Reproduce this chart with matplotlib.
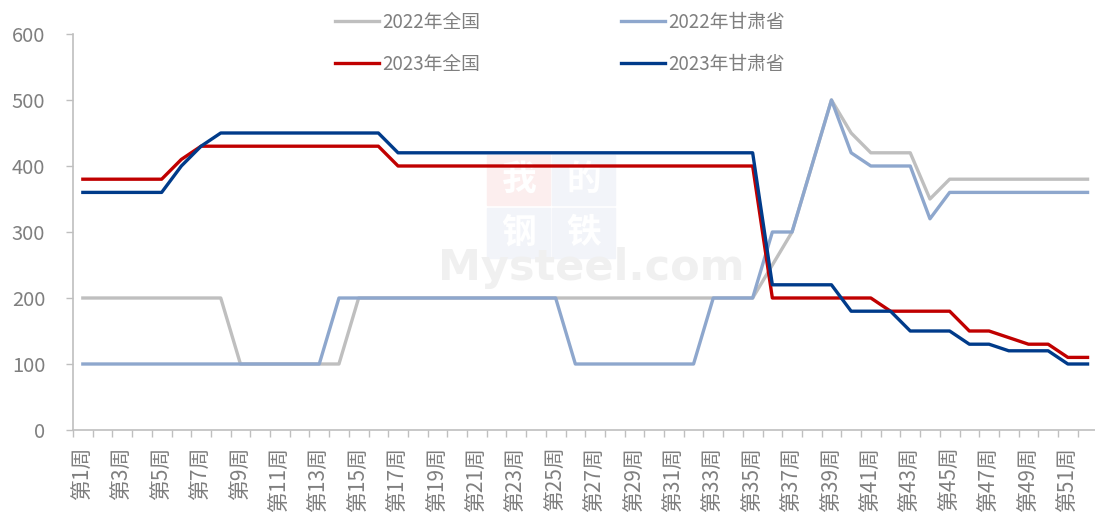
import numpy as np
import matplotlib.pyplot as plt
from matplotlib.patches import Rectangle

plt.rcParams['font.family'] = ['Noto Sans CJK SC', 'DejaVu Sans']

# данные: недели 1..52
weeks = np.arange(1, 53)
week_labels = ['第%d周' % w for w in weeks]

nat_2022 = [200, 200, 200, 200, 200, 200, 200, 200, 100, 100,
            100, 100, 100, 100, 200, 200, 200, 200, 200, 200,
            200, 200, 200, 200, 200, 200, 200, 200, 200, 200,
            200, 200, 200, 200, 200, 250, 300, 400, 500, 450,
            420, 420, 420, 350, 380, 380, 380, 380, 380, 380,
            380, 380]
gs_2022 = [100, 100, 100, 100, 100, 100, 100, 100, 100, 100,
           100, 100, 100, 200, 200, 200, 200, 200, 200, 200,
           200, 200, 200, 200, 200, 100, 100, 100, 100, 100,
           100, 100, 200, 200, 200, 300, 300, 400, 500, 420,
           400, 400, 400, 320, 360, 360, 360, 360, 360, 360,
           360, 360]
nat_2023 = [380, 380, 380, 380, 380, 410, 430, 430, 430, 430,
            430, 430, 430, 430, 430, 430, 400, 400, 400, 400,
            400, 400, 400, 400, 400, 400, 400, 400, 400, 400,
            400, 400, 400, 400, 400, 200, 200, 200, 200, 200,
            200, 180, 180, 180, 180, 150, 150, 140, 130, 130,
            110, 110]
gs_2023 = [360, 360, 360, 360, 360, 400, 430, 450, 450, 450,
           450, 450, 450, 450, 450, 450, 420, 420, 420, 420,
           420, 420, 420, 420, 420, 420, 420, 420, 420, 420,
           420, 420, 420, 420, 420, 220, 220, 220, 220, 180,
           180, 180, 150, 150, 150, 130, 130, 120, 120, 120,
           100, 100]

tcol = '#7F7F7F'
acol = '#BFBFBF'
W, H = 1095, 513

fig = plt.figure(figsize=(10.95, 5.13), dpi=100)
ax = fig.add_axes([73/W, 83/H, 1024.4/W, 396/H])

# водяной знак (логотип) под линиями
tf = fig.transFigure
boxes = [(487, 155, '#FCEEEE', '我'), (552, 155, '#F2F4F9', '的'),
         (487, 208, '#F2F4F9', '钢'), (552, 208, '#F2F4F9', '铁')]
for bx, by, bc, ch in boxes:
    ax.add_patch(Rectangle((bx/W, 1 - (by + 50)/H), 63/W, 50/H,
                           transform=tf, color=bc, zorder=0.2, clip_on=False))
    ax.text((bx + 32)/W, 1 - (by + 24)/H, ch, transform=tf, ha='center',
            va='center', fontsize=25, color='white', fontweight='bold',
            zorder=0.3)
ax.text(591/W, 1 - 268/H, 'Mysteel.com', transform=tf, ha='center',
        va='center', fontsize=31, color='#F0F0F0', fontweight='bold',
        family='DejaVu Sans', zorder=0.4)

lw = 2.4
ax.plot(weeks, nat_2022, color='#BFBFBF', linewidth=lw, label='2022年全国')
ax.plot(weeks, gs_2022, color='#8EA7CD', linewidth=lw, label='2022年甘肃省')
ax.plot(weeks, nat_2023, color='#C00000', linewidth=lw, label='2023年全国')
ax.plot(weeks, gs_2023, color='#003B8A', linewidth=lw, label='2023年甘肃省')

ax.set_xlim(0.5, 52.5)
ax.set_ylim(0, 600)
ax.set_yticks(np.arange(0, 601, 100))
ax.tick_params(axis='y', colors=acol, labelcolor=tcol, labelsize=14.5,
               length=5, width=1, pad=15)

ax.set_xticks(weeks[::2])
ax.set_xticklabels(week_labels[::2], rotation=90, fontsize=15, color=tcol)
ax.set_xticks(np.arange(0.5, 53, 1), minor=True)
ax.tick_params(axis='x', which='major', length=0, pad=12)
ax.tick_params(axis='x', which='minor', length=5, width=1, colors=acol)

for s in ['top', 'right']:
    ax.spines[s].set_visible(False)
for s in ['left', 'bottom']:
    ax.spines[s].set_color(acol)
    ax.spines[s].set_linewidth(1.2)

h, l = ax.get_legend_handles_labels()
order = [0, 2, 1, 3]
leg = fig.legend([h[i] for i in order], [l[i] for i in order], ncol=2,
                 loc='upper center', bbox_to_anchor=(560/W, 1 + 5/H),
                 frameon=False, fontsize=13.5, handlelength=2.35,
                 handletextpad=0.16, columnspacing=7.5, labelspacing=1.12)
for t in leg.get_texts():
    t.set_color(tcol)

fig.savefig('out.png', dpi=100)
